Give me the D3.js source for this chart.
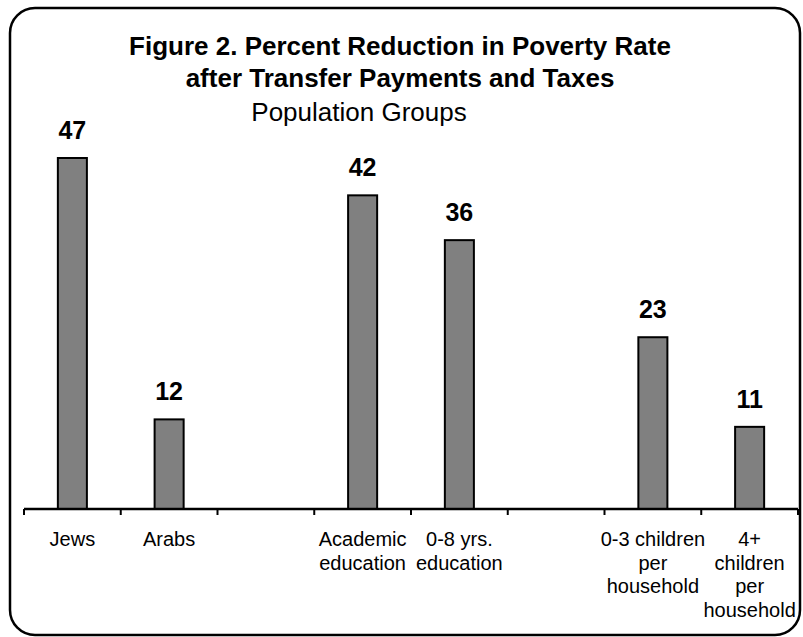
<!DOCTYPE html>
<html>
<head>
<meta charset="utf-8">
<script src="https://cdn.jsdelivr.net/npm/d3@7"></script>
<style>
  body { margin: 0; background: #fff; }
  svg text { font-family: Arial, "Liberation Sans", sans-serif; }
</style>
</head>
<body>
<div id="chart"></div>
<script>
// data
var categories = ["Jews", "Arabs", "gap1", "Academic education", "0-8 yrs. education", "gap2", "0-3 children per household", "4+ children per household"];
var labelLines = [
  ["Jews"],
  ["Arabs"],
  [],
  ["Academic", "education"],
  ["0-8 yrs.", "education"],
  [],
  ["0-3 children", "per", "household"],
  ["4+", "children", "per", "household"]
];
var values = [47, 12, null, 42, 36, null, 23, 11];
var titleLines = ["Figure 2. Percent Reduction in Poverty Rate", "after Transfer Payments and Taxes"];
var subtitle = "Population Groups";

var width = 803, height = 637;
var axisY = 509;

var svg = d3.select("#chart").append("svg")
    .attr("width", width)
    .attr("height", height);

// frame
svg.append("rect")
    .attr("x", 10).attr("y", 8)
    .attr("width", 790).attr("height", 627)
    .attr("rx", 25).attr("ry", 25)
    .attr("fill", "#fff")
    .attr("stroke", "#000")
    .attr("stroke-width", 2.5);

// titles
svg.selectAll("text.title")
    .data(titleLines)
  .enter().append("text")
    .attr("class", "title")
    .attr("x", 400)
    .attr("y", function(d, i) { return 55 + i * 32; })
    .attr("text-anchor", "middle")
    .style("font-size", "26px")
    .style("font-weight", "bold")
    .text(function(d) { return d; });

svg.append("text")
    .attr("x", 359)
    .attr("y", 121)
    .attr("text-anchor", "middle")
    .style("font-size", "26px")
    .text(subtitle);

// scales
var x = d3.scaleBand()
    .domain(categories)
    .range([24, 798])
    .paddingInner(0.7)
    .paddingOuter(0.35);

var xSlots = d3.scaleBand()
    .domain(categories)
    .range([24, 798])
    .padding(0);

var y = d3.scaleLinear()
    .domain([0, 50])
    .range([axisY, axisY - 50 * (351 / 47)]);

var data = categories.map(function(c, i) { return {cat: c, value: values[i], lines: labelLines[i]}; });
var barData = data.filter(function(d) { return d.value != null; });

// bars
svg.selectAll("rect.bar")
    .data(barData)
  .enter().append("rect")
    .attr("class", "bar")
    .attr("x", function(d) { return x(d.cat); })
    .attr("y", function(d) { return y(d.value); })
    .attr("width", x.bandwidth())
    .attr("height", function(d) { return axisY - y(d.value); })
    .attr("fill", "#808080")
    .attr("stroke", "#000")
    .attr("stroke-width", 2);

// value labels
svg.selectAll("text.val")
    .data(barData)
  .enter().append("text")
    .attr("class", "val")
    .attr("x", function(d) { return x(d.cat) + x.bandwidth() / 2; })
    .attr("y", function(d) { return y(d.value) - 19; })
    .attr("text-anchor", "middle")
    .style("font-size", "25px")
    .style("font-weight", "bold")
    .text(function(d) { return d.value; });

// category axis, ticks sit between slots
svg.append("line")
    .attr("x1", xSlots.range()[0]).attr("x2", xSlots.range()[1])
    .attr("y1", axisY).attr("y2", axisY)
    .attr("stroke", "#000")
    .attr("stroke-width", 2.5);

var tickPos = categories.map(function(c) { return xSlots(c); }).concat([xSlots.range()[1]]);
svg.selectAll("line.tick")
    .data(tickPos)
  .enter().append("line")
    .attr("class", "tick")
    .attr("x1", function(d) { return d; })
    .attr("x2", function(d) { return d; })
    .attr("y1", axisY)
    .attr("y2", axisY + 6)
    .attr("stroke", "#000")
    .attr("stroke-width", 2);

var labels = svg.selectAll("text.cat")
    .data(data)
  .enter().append("text")
    .attr("class", "cat")
    .attr("text-anchor", "middle")
    .style("font-size", "20px")
    .attr("transform", function(d) {
      return "translate(" + (xSlots(d.cat) + xSlots.bandwidth() / 2) + "," + 546 + ")";
    });

labels.selectAll("tspan")
    .data(function(d) { return d.lines; })
  .enter().append("tspan")
    .attr("x", 0)
    .attr("y", function(d, i) { return i * 23.5; })
    .text(function(d) { return d; });
</script>
</body>
</html>
